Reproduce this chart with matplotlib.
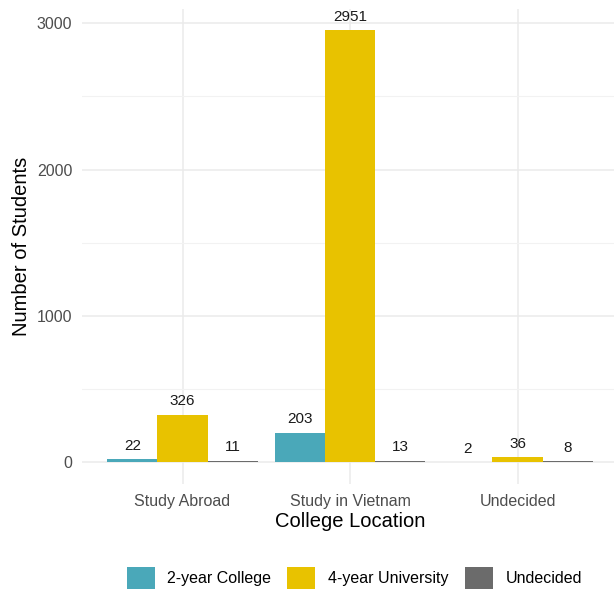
import numpy as np
import matplotlib
matplotlib.use('Agg')
from matplotlib import pyplot as plt
from matplotlib.patches import Patch

# data
locations = ['Study Abroad', 'Study in Vietnam', 'Undecided']
college_types = ['2-year College', '4-year University', 'Undecided']
two_year = [22, 203, 2]
four_year = [326, 2951, 36]
undecided = [11, 13, 8]

colors = ['#4AA8B9', '#E8C200', '#6B6B6B']
series = [two_year, four_year, undecided]

plt.rcParams['font.family'] = ['Liberation Sans', 'DejaVu Sans']

fig = plt.figure(figsize=(6.14, 5.91), dpi=100)
ax = fig.add_axes([0.1336, 0.181, 0.873, 0.804])

x = np.arange(len(locations))
bw = 0.3
for i, (vals, c) in enumerate(zip(series, colors)):
    pos = x + (i - 1) * bw
    ax.bar(pos, vals, width=bw, color=c, zorder=2)
    for p, v in zip(pos, vals):
        ax.text(p, v + 45, str(v), ha='center', va='bottom', fontsize=11, color='#1a1a1a')

ymax = max(four_year)
ax.set_ylim(-0.05 * ymax, 1.05 * ymax)
ax.set_xlim(-0.6, 2.6)
ax.set_xticks(x)
ax.set_xticklabels(locations)
ax.set_yticks([0, 1000, 2000, 3000])
ax.set_yticks([500, 1500, 2500], minor=True)
ax.grid(True, which='major', color='#EBEBEB', lw=1.1, zorder=0)
ax.grid(True, which='minor', axis='y', color='#F2F2F2', lw=0.8, zorder=0)
ax.tick_params(which='both', length=0, labelsize=11.5, labelcolor='#4D4D4D', pad=7)
for s in ax.spines.values():
    s.set_visible(False)

ax.set_xlabel('College Location', fontsize=14.5, labelpad=2)
ax.set_ylabel('Number of Students', fontsize=14.5, labelpad=4)

handles = [Patch(facecolor=c, label=t) for c, t in zip(colors, college_types)]
fig.legend(handles=handles, loc='center', bbox_to_anchor=(0.577, 0.022), ncol=3,
           frameon=False, fontsize=11.5, handlelength=1.75, handleheight=1.75,
           columnspacing=1.0, handletextpad=0.8)

fig.savefig('out.png', dpi=100)
